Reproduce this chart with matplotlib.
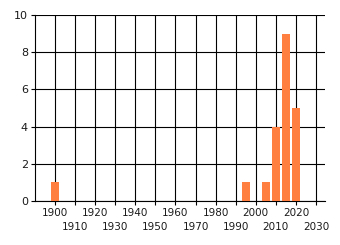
import matplotlib
matplotlib.use('Agg')
import matplotlib.pyplot as plt

# данные
years = [1900, 1995, 2005, 2010, 2015, 2020]
counts = [1, 1, 1, 4, 9, 5]
x_top = list(range(1900, 2021, 20))     # верхний ряд подписей
x_bottom = list(range(1910, 2031, 20))  # нижний ряд подписей
y_ticks = [0, 2, 4, 6, 8, 10]

fig = plt.figure(figsize=(3.4, 2.45), dpi=100)
ax = fig.add_axes([35 / 340, 1 - 201 / 245, 290 / 340, 186 / 245])

ax.bar(years, counts, width=4, color='#FF7F40', zorder=3)

ax.set_xlim(1890, 2034.5)
ax.set_ylim(0, 10)
ax.set_xticks(x_top)
ax.set_xticklabels([str(t) for t in x_top], fontsize=7.5, color='#1a1a1a')
ax.set_xticks(x_bottom, minor=True)
ax.set_xticklabels([str(t) for t in x_bottom], minor=True, fontsize=7.5, color='#1a1a1a')
ax.set_yticks(y_ticks)
ax.set_yticklabels([str(v) for v in y_ticks], fontsize=8, color='#1a1a1a')
ax.tick_params(axis='both', which='both', length=3, width=0.8, color='black', pad=2)
ax.tick_params(axis='x', which='minor', pad=12)

ax.grid(True, which='both', color='black', linewidth=0.8, zorder=1)
for side in ['top', 'right']:
    ax.spines[side].set_visible(False)
for side in ['left', 'bottom']:
    ax.spines[side].set_linewidth(0.8)
    ax.spines[side].set_color('black')

fig.savefig('out.png', dpi=100)
